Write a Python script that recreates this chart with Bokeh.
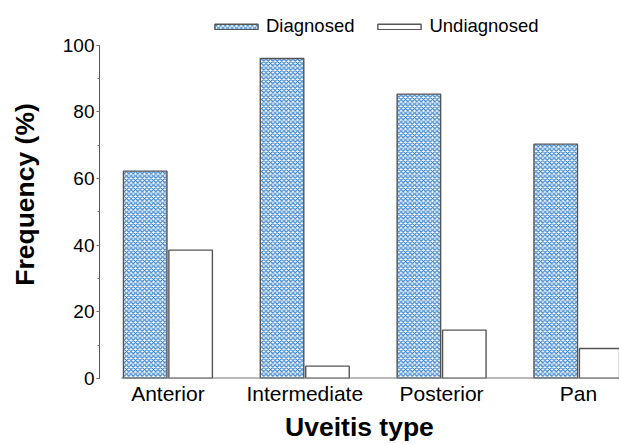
from bokeh.plotting import figure
from bokeh.models import (ColumnDataSource, Range1d, FixedTicker, SingleIntervalTicker,
                          Legend, LegendItem)
from bokeh.transform import dodge
from bokeh.embed import file_html
from bokeh.resources import INLINE

categories = ["Anterior", "Intermediate", "Posterior", "Pan"]
diagnosed = [62.2, 96.0, 85.3, 70.3]
undiagnosed = [38.5, 3.7, 14.5, 9.0]
y_ticks = [0, 20, 40, 60, 80, 100]
series_names = ["Diagnosed", "Undiagnosed"]

FONT = "Liberation Sans"
BAR_W = 0.318
OFF = 0.166
Y_AXIS_MAX = 100
Y_VIEW_END = 110.4   # extra room above the axis for the legend

xs = list(range(len(categories)))
src = ColumnDataSource(dict(x=xs, diag=diagnosed, undiag=undiagnosed))

p = figure(width=619, height=444, output_backend="svg", toolbar_location=None,
           x_range=Range1d(-0.5, 3.3), y_range=Range1d(0, Y_VIEW_END),
           min_border_left=99, min_border_right=0, min_border_top=10,
           min_border_bottom=64)
p.outline_line_color = None
p.xgrid.grid_line_color = None
p.ygrid.grid_line_color = None
p.background_fill_color = "white"

r1 = p.vbar(x=dodge("x", -OFF, range=p.x_range), top="diag", width=BAR_W, source=src,
            fill_color="white", hatch_pattern="x", hatch_color="#2a7bcc",
            hatch_scale=4.5, hatch_weight=1.2,
            line_color="#555555", line_width=1.4)
r2 = p.vbar(x=dodge("x", OFF, range=p.x_range), top="undiag", width=BAR_W, source=src,
            fill_color="white", line_color="#555555", line_width=1.4)

# baseline starting just left of the first bar
x_start = xs[0] - OFF - BAR_W / 2 - 0.015
p.segment(x0=[x_start], y0=[0], x1=[p.x_range.end], y1=[0],
          line_color="#777777", line_width=2)

# x axis
xa = p.xaxis[0]
xa.ticker = FixedTicker(ticks=xs)
xa.major_label_overrides = {i: c for i, c in zip(xs, categories)}
xa.axis_line_color = None
xa.major_tick_line_color = None
xa.minor_tick_line_color = None
xa.major_tick_out = 0
xa.major_label_standoff = 3
xa.major_label_text_font = FONT
xa.major_label_text_font_size = "21px"
xa.major_label_text_color = "black"
xa.axis_label = "Uveitis type"
xa.axis_label_text_font = FONT
xa.axis_label_text_font_size = "26.5px"
xa.axis_label_text_font_style = "bold"
xa.axis_label_text_color = "black"
xa.axis_label_standoff = 4

# y axis
ya = p.yaxis[0]
ya.ticker = SingleIntervalTicker(interval=20, num_minor_ticks=2)
ya.bounds = (0, Y_AXIS_MAX)
ya.axis_line_color = "#555555"
ya.axis_line_width = 1
ya.major_tick_line_color = "#555555"
ya.major_tick_in = 0
ya.major_tick_out = 3
ya.minor_tick_line_color = "#777777"
ya.minor_tick_in = 0
ya.minor_tick_out = 2
ya.major_label_standoff = 2
ya.major_label_text_font = FONT
ya.major_label_text_font_size = "19px"
ya.major_label_text_color = "black"
ya.axis_label = "Frequency (%)"
ya.axis_label_text_font = FONT
ya.axis_label_text_font_size = "26.5px"
ya.axis_label_text_font_style = "bold"
ya.axis_label_text_color = "black"
ya.axis_label_standoff = 20

legend = Legend(items=[LegendItem(label=series_names[0], renderers=[r1]),
                       LegendItem(label=series_names[1], renderers=[r2])],
                orientation="horizontal", location=(110, 341),
                glyph_width=54, glyph_height=7, label_standoff=3, spacing=18,
                padding=0, margin=0, border_line_color=None,
                background_fill_alpha=0,
                label_text_font=FONT, label_text_font_size="18.5px",
                label_text_color="black")
p.add_layout(legend, "center")

open("out.html", "w").write(file_html(p, INLINE))
